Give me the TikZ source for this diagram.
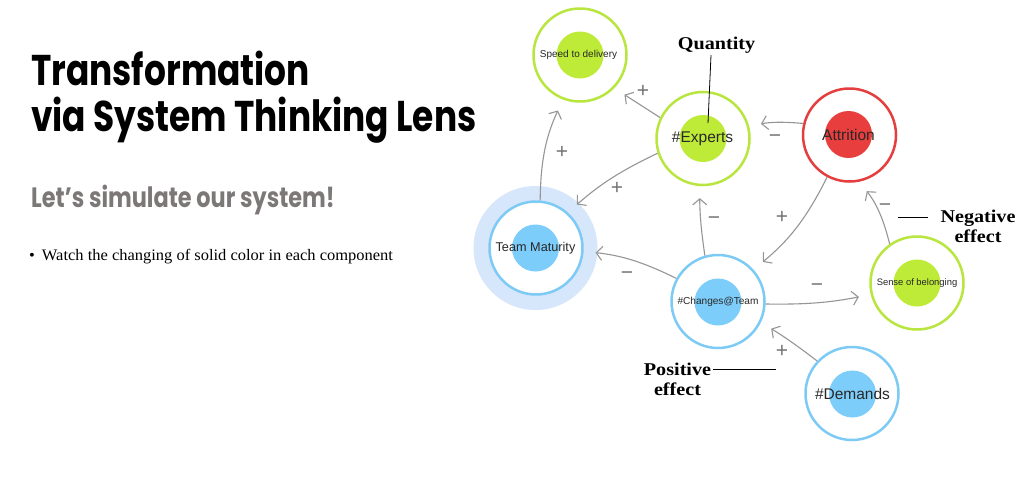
\documentclass[tikz,border=0pt]{standalone}
\usepackage{fontspec}
\setmainfont{Liberation Serif}
\newfontfamily\nodefont{Liberation Sans}
\newfontfamily\titlefont{Poppins}[FakeStretch=0.8]
\newfontfamily\lblfont{Liberation Serif}[FakeStretch=1.12]
\newfontfamily\bodyfont{Liberation Serif}[FakeStretch=1.03]
\usetikzlibrary{arrows.meta}
\definecolor{gring}{RGB}{184,230,62}
\definecolor{gfill}{RGB}{190,235,55}
\definecolor{bring}{RGB}{125,203,245}
\definecolor{bfill}{RGB}{125,205,250}
\definecolor{rring}{RGB}{228,62,62}
\definecolor{rfill}{RGB}{232,62,62}
\definecolor{halo}{RGB}{214,230,251}
\definecolor{arrgray}{RGB}{150,150,150}
\definecolor{signgray}{RGB}{115,115,115}
\definecolor{txt}{RGB}{40,40,40}
\definecolor{subgray}{RGB}{125,120,120}
\tikzset{
  ring/.style={circle, draw=#1, line width=2.5pt, fill=white, minimum size=93pt, inner sep=0pt},
  core/.style={circle, fill=#1, minimum size=47pt, inner sep=0pt},
  ntext/.style={font=\nodefont\fontsize{#1}{#1}\selectfont, text=txt, inner sep=0pt},
  arr/.style={draw=arrgray, line width=1.1pt, -{Straight Barb[length=6pt,width=14pt,line width=1.1pt]}, shorten >=12pt},
  sign/.style={font=\nodefont\fontsize{21}{21}\selectfont, text=signgray, inner sep=0pt},
  lbl/.style={font=\lblfont\bfseries\fontsize{18}{20}\selectfont, align=center, inner sep=0pt},
  pointer/.style={draw=black, line width=0.8pt},
}
\begin{document}
\begin{tikzpicture}[x=1pt,y=1pt]
\useasboundingbox (0,0) rectangle (1024,-482);
\fill[white] (0,0) rectangle (1024,-482);
% left text
\node[anchor=base west, inner sep=0pt, font=\titlefont\bfseries\fontsize{43}{45}\selectfont] (t1) at (31,-85) {Transformation};
\node[anchor=base west, inner sep=0pt, font=\titlefont\bfseries\fontsize{43}{45}\selectfont] (t2) at (31,-131) {via System Thinking Lens};
\node[anchor=base west, inner sep=0pt, text=subgray, font=\titlefont\bfseries\fontsize{28}{30}\selectfont] (sub) at (31,-207) {Let’s simulate our system!};
\node[anchor=base west, inner sep=0pt, font=\bodyfont\fontsize{16}{18}\selectfont] (bul) at (29,-260) {\textbullet\hspace{7pt}Watch the changing of solid color in each component};
% halo
\node[circle, fill=halo, minimum size=124pt, inner sep=0pt] (tmh) at (535.5,-248) {};
% rings
\node[ring=gring] (spd) at (580,-55) {};
\node[ring=gring] (exp) at (703,-138.5) {};
\node[ring=rring] (att) at (849.5,-135) {};
\node[ring=gring] (snb) at (917,-283) {};
\node[ring=bring] (tm) at (536,-248) {};
\node[ring=bring] (cng) at (718,-301.5) {};
\node[ring=bring] (dem) at (852,-393.5) {};
% cores
\node[core=gfill] (spdc) at (580,-55) {};
\node[core=gfill] (expc) at (703,-138.5) {};
\node[core=rfill] (attc) at (848.5,-134.5) {};
\node[core=gfill] (snbc) at (917,-283) {};
\node[core=bfill] (tmc) at (535.5,-248) {};
\node[core=bfill] (cngc) at (718,-302) {};
\node[core=bfill] (demc) at (852.5,-394) {};
% texts
\node[ntext=10] (spdt) at (578.5,-55) {Speed to delivery};
\node[ntext=15.5] (expt) at (702.5,-138.5) {\#Experts};
\node[ntext=15.5] (attt) at (848.5,-134.5) {Attrition};
\node[ntext=9.4] (snbt) at (917,-283) {Sense of belonging};
\node[ntext=12.7] (tmt) at (535.5,-248) {Team Maturity};
\node[ntext=10.1] (cngt) at (718,-301.5) {\#Changes@Team};
\node[ntext=15.5] (demt) at (852.5,-393.5) {\#Demands};
% connectors
\draw[arr] (exp.154) to (spd.-44);
\draw[arr] (tm.85) to[bend left=12] (spd.-111);
\draw[arr] (exp.198) to[bend right=8] (tm.48);
\draw[arr] (att.166) to[bend right=8] (exp.15);
\draw[arr] (att.242) to[bend left=12] (cng.42);
\draw[arr] (snb.125) to[bend right=12] (att.-78);
\draw[arr] (cng.106) to[bend left=4] (exp.-94);
\draw[arr] (cng.151) to[bend right=10] (tm.-4);
\draw[arr] (cng.-3) to[bend right=6] (snb.194);
\draw[arr] (dem.137) to[bend right=3] (cng.-26);
% signs
\node[sign] (s1) at (643,-91) {+};
\node[sign] (s2) at (562,-152) {+};
\node[sign] (s3) at (617,-188) {+};
\node[sign] (s4) at (775,-139) {−};
\node[sign] (s5) at (782,-217) {+};
\node[sign] (s6) at (885,-208) {−};
\node[sign] (s7) at (714,-221) {−};
\node[sign] (s8) at (627,-276) {−};
\node[sign] (s9) at (817,-288) {−};
\node[sign] (s10) at (782,-351) {+};
% annotations
\node[lbl, anchor=base] (qty) at (716.5,-49) {Quantity};
\coordinate (qtop) at (711,-55);
\coordinate (qend) at (708,-123);
\draw[pointer] (qtop) -- (qend);
\node[lbl, anchor=north] (neg) at (978,-210) {Negative\\effect};
\coordinate (nega) at (898,-217);
\coordinate (negb) at (928,-217);
\draw[pointer] (nega) -- (negb);
\node[lbl, anchor=north] (pos) at (677.5,-363) {Positive\\effect};
\coordinate (posa) at (713,-369);
\coordinate (posb) at (776,-369);
\draw[pointer] (posa) -- (posb);
\end{tikzpicture}
\end{document}
